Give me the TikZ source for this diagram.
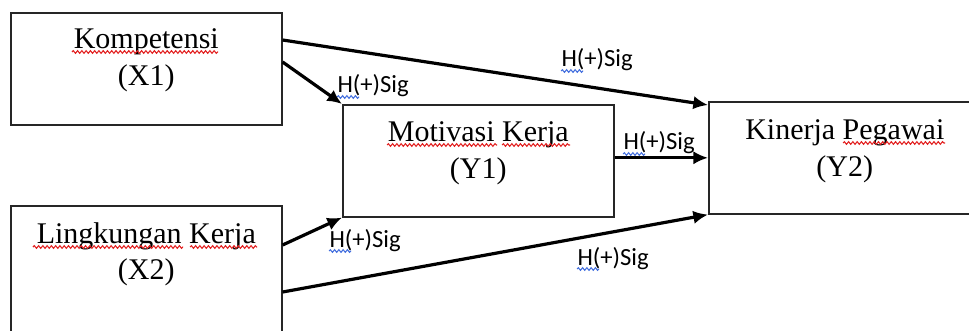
\documentclass[tikz,border=0pt]{standalone}
\usepackage{fontspec}
\setmainfont{Liberation Serif}
\newfontfamily\sigfont{Carlito}
\usetikzlibrary{arrows.meta,calc,decorations.pathmorphing}
\definecolor{typored}{RGB}{226,32,32}
\definecolor{gramblue}{RGB}{66,110,222}
\tikzset{every picture/.style={line width=0.75pt}}

\begin{document}
\begin{tikzpicture}[x=0.75pt,y=0.75pt,yscale=-1,xscale=1,
	box/.style={draw=black!85, line width=1.2pt, anchor=north west, inner sep=0pt, minimum width=203.25pt, minimum height=84pt},
	txt/.style={font=\fontsize{22.5}{27.5}\selectfont, align=center, anchor=north, inner sep=0pt},
	lbl/.style={font=\sigfont\fontsize{18.5}{22}\selectfont, anchor=base west, inner sep=0pt},
	arr/.style={-{Latex[length=11pt,width=10pt]}, line width=2.4pt},
	typo/.style={draw=typored, line width=0.8pt, decorate, decoration={snake, segment length=3.2pt, amplitude=1pt}},
	gram/.style={typo, draw=gramblue}]
	\clip (0,0) rectangle (969,331);

	%Boxes
	\node [box] (X1) at (10,12) {};
	\node [box, minimum height=112.5pt] (X2) at (10,205) {};
	\node [box] (Y1) at (342,104) {};
	\node [box, minimum width=204pt] (Y2) at (708,101) {};

	%Box texts
	\node [txt] (tX1) at ($(X1.north)+(0,16)$) {Kompetensi\\(X1)};
	\node [txt] (tX2) at ($(X2.north)+(0,17)$) {Lingkungan Kerja\\(X2)};
	\node [txt] (tY1) at ($(Y1.north)+(0,17)$) {Motivasi Kerja\\(Y1)};
	\node [txt] (tY2) at ($(Y2.north)+(0,18)$) {Kinerja Pegawai\\(Y2)};

	%Paths
	\draw [arr] ($(X1.north east)+(0,28)$) -- ($(Y2.north west)+(0,4)$);
	\draw [arr] ($(X1.north east)+(0,50)$) -- (Y1.north west);
	\draw [arr] (Y2.west -| Y1.east) -- (Y2.west);
	\draw [arr] ($(X2.north east)+(0,40)$) -- (Y1.south west);
	\draw [arr] ($(X2.north east)+(0,87)$) -- (Y2.south west);

	%Path labels
	\node [lbl] (h1) at (561,67) {H(+)Sig};
	\node [lbl] (h2) at (337,93) {H(+)Sig};
	\node [lbl] (h3) at (623,150) {H(+)Sig};
	\node [lbl] (h4) at (329,247) {H(+)Sig};
	\node [lbl] (h5) at (577,265) {H(+)Sig};

	%Spelling marks
	\draw [typo] (72,52) -- (218,52);
	\draw [typo] (33,247) -- (183,247);
	\draw [typo] (190,247) -- (257,247);
	\draw [typo] (387,145) -- (497,145);
	\draw [typo] (502,145) -- (570,145);
	\draw [typo] (843,143) -- (945,143);
	\foreach \h in {h1,h2,h3,h4,h5}
		\draw [gram] ($(\h.base west)+(0,4)$) -- ++(22,0);
\end{tikzpicture}
\end{document}
